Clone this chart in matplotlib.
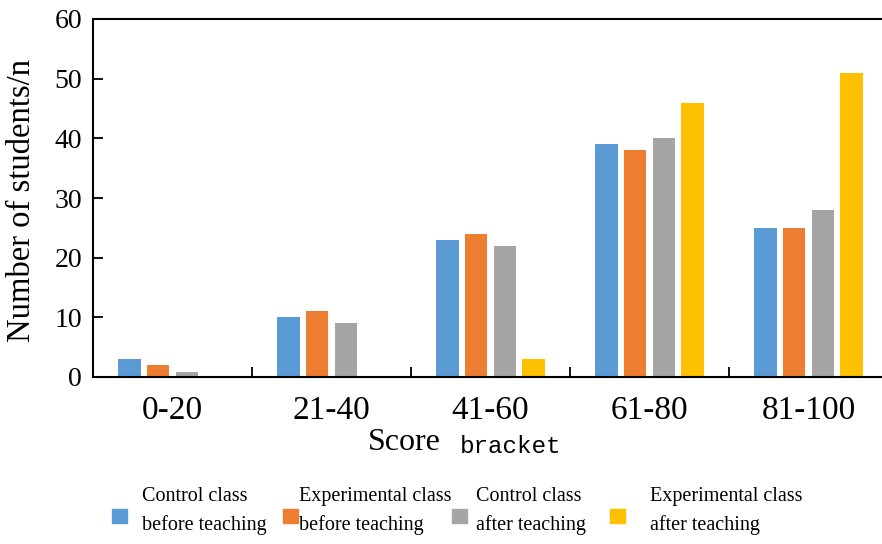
import matplotlib
matplotlib.use("Agg")
from matplotlib import pyplot as plt
from matplotlib.patches import Rectangle
import numpy as np

# score brackets and student counts
brackets = ["0-20", "21-40", "41-60", "61-80", "81-100"]
control_before = [3, 10, 23, 39, 25]
experimental_before = [2, 11, 24, 38, 25]
control_after = [0.8, 9, 22, 40, 28]
experimental_after = [0, 0, 3, 46, 51]
series_labels = ["Control class\nbefore teaching",
                 "Experimental class\nbefore teaching",
                 "Control class\nafter teaching",
                 "Experimental class\nafter teaching"]
colors = ["#5B9BD5", "#ED7D31", "#A5A5A5", "#FFC000"]
yticks = [0, 10, 20, 30, 40, 50, 60]

W, H = 882, 544
serif = "Liberation Serif"

fig = plt.figure(figsize=(W / 100, H / 100), dpi=100)
ax = fig.add_axes([93 / W, 1 - 377 / H, 795 / W, 358 / H])

x = np.arange(len(brackets))
width = 0.144
step = 0.182
series = [control_before, experimental_before, control_after, experimental_after]
for i, (vals, color) in enumerate(zip(series, colors)):
    ax.bar(x + (i - 1.5) * step, vals, width=width, color=color)

ax.set_xlim(-0.5, len(brackets) - 0.5)
ax.set_ylim(0, 60)

# spines: left, top, bottom
for side in ["left", "top", "bottom"]:
    ax.spines[side].set_linewidth(1.5)
    ax.spines[side].set_color("black")
ax.spines["right"].set_visible(False)

ax.set_yticks(yticks)
ax.set_yticklabels([str(v) for v in yticks], fontfamily=serif, fontsize=20)
ax.tick_params(axis="y", direction="in", length=7, width=1.3, pad=8)

# category labels at centres, separator ticks at boundaries
ax.set_xticks(x)
ax.set_xticklabels(brackets, fontfamily=serif, fontsize=24)
ax.tick_params(axis="x", which="major", length=0, pad=13)
ax.set_xticks(x[:-1] + 0.5, minor=True)
ax.tick_params(axis="x", which="minor", direction="in", length=7, width=1.3)

ax.set_ylabel("Number of students/n", fontfamily=serif, fontsize=23.5)
ax.yaxis.set_label_coords(-0.071, 0.494)

# x label: "Score" in serif, "bracket" in a mono face
fig.text(368 / W, 1 - 450 / H, "Score", fontfamily=serif, fontsize=23, va="baseline")
fig.text(460 / W, 1 - 453 / H, "bracket", fontfamily="Liberation Mono", fontsize=17.5, va="baseline")

# legend row, laid out by hand
square_x = [112, 283, 452, 610]
text_x = [142, 299, 476, 650]
for sx, tx, label, color in zip(square_x, text_x, series_labels, colors):
    fig.add_artist(Rectangle((sx / W, 1 - 523 / H), 15 / W, 14 / H,
                             transform=fig.transFigure, color=color))
    line1, line2 = label.split("\n")
    fig.text(tx / W, 1 - 501 / H, line1, fontfamily=serif, fontsize=14.5, va="baseline")
    fig.text(tx / W, 1 - 530 / H, line2, fontfamily=serif, fontsize=14.5, va="baseline")

fig.savefig("out.png", dpi=100)
